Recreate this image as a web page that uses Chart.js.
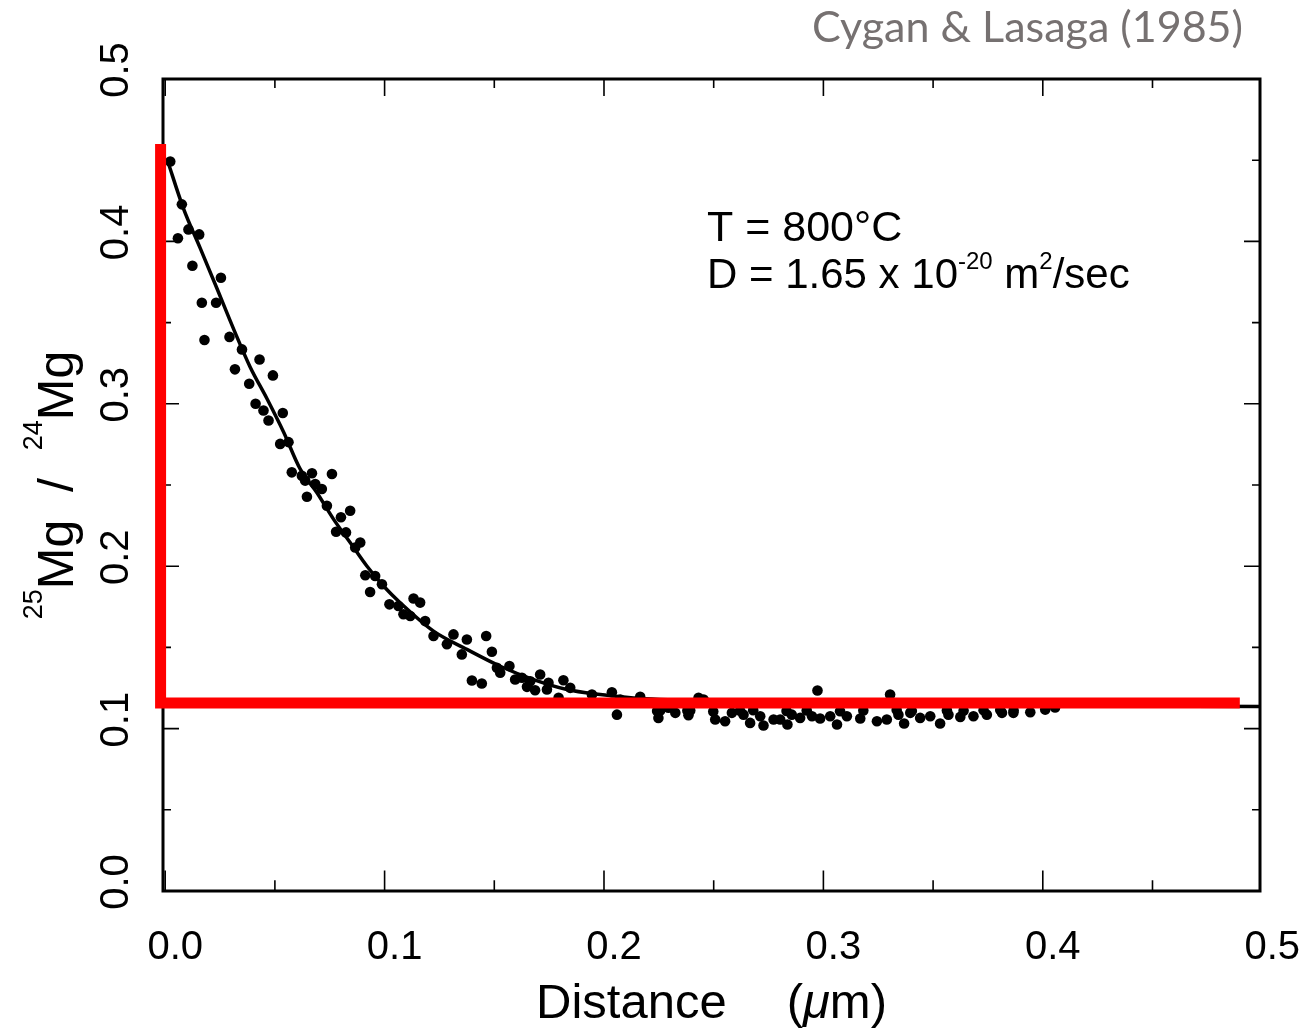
<!DOCTYPE html>
<html><head><meta charset="utf-8">
<script src="https://cdn.jsdelivr.net/npm/chart.js@4.4.0/dist/chart.umd.min.js"></script>
<style>html,body{margin:0;padding:0;background:#fff;overflow:hidden}#wrap{width:1307px;height:1030px}</style>
</head><body><div id="wrap"><canvas id="c" width="1307" height="1030"></canvas></div>
<script>
// ---------- data ----------
const chartTitle = 'Cygan & Lasaga (1985)';
const xTitleWord = 'Distance';
const xTitleUnitMu = 'μ';
const xTitleUnitRest = 'm)';
const yTitleParts = [['25', true], ['Mg', false], ['  /  ', false], ['24', true], ['Mg', false]];
const annotLine1 = 'T = 800°C';
const annotLine2 = [['D = 1.65 x 10', false], ['-20', true], [' m', false], ['2', true], ['/sec', false]];

const xMajorTicks = [0.0, 0.1, 0.2, 0.3, 0.4, 0.5];
const xMinorTicks = [0.05, 0.15, 0.25, 0.35, 0.45];
const yMajorTicks = [0.0, 0.1, 0.2, 0.3, 0.4, 0.5];
const yMinorTicks = [0.05, 0.15, 0.25, 0.35, 0.45];

const dataX = [0.0023,0.0076,0.0106,0.0155,0.0058,0.0124,0.0254,0.0167,0.0232,0.0179,0.0293,0.0350,0.0430,0.0318,0.0491,0.0383,0.0412,0.0448,0.0536,0.0471,
0.0524,0.0562,0.0577,0.0669,0.0760,0.0623,0.0638,0.0684,0.0714,0.0646,0.0737,0.0843,0.0801,0.0779,0.0824,0.0889,0.0866,0.0912,0.0957,0.0988,
0.0934,0.1132,0.1162,0.1022,0.1063,0.1086,0.1117,0.1185,0.1223,0.1314,0.1284,0.1375,0.1463,0.1489,0.1352,0.1512,0.1569,0.1527,0.1595,0.1626,
0.1709,0.1664,0.1398,0.1443,0.1747,0.1815,0.1686,0.1649,0.1740,0.1846,0.1945,0.2036,0.1793,0.2059,0.2165,0.2248,0.2325,0.2385,0.2294,0.2431,
0.2973,0.3304,0.2454,0.2507,0.2552,0.2583,0.2636,0.2666,0.2727,0.2712,0.2773,0.2803,0.2836,0.2856,0.2894,0.2948,0.2985,0.3031,0.3062,0.3107,
0.3168,0.3244,0.3289,0.3342,0.3368,0.3396,0.3441,0.3487,0.3532,0.3570,0.3624,0.3684,0.3745,0.3814,0.3866,0.3943,0.4011,0.4056,0.2074,0.2256,
0.2393,0.2242,0.2380,0.2498,0.2620,0.2680,0.2832,0.2924,0.3076,0.3182,0.3334,0.3403,0.3563,0.3639,0.3730,0.3806,0.3867];
const dataY = [0.4492,0.4228,0.4074,0.4043,0.4019,0.3850,0.3776,0.3622,0.3622,0.3393,0.3412,0.3335,0.3273,0.3212,0.3175,0.3123,0.3000,0.2959,0.2943,0.2897,
0.2753,0.2764,0.2578,0.2572,0.2568,0.2557,0.2527,0.2506,0.2475,0.2428,0.2372,0.2341,0.2301,0.2212,0.2208,0.2146,0.2115,0.1944,0.1940,0.1889,
0.1841,0.1801,0.1776,0.1765,0.1755,0.1704,0.1693,0.1662,0.1570,0.1580,0.1519,0.1549,0.1570,0.1473,0.1457,0.1375,0.1385,0.1344,0.1302,0.1313,
0.1333,0.1292,0.1296,0.1278,0.1282,0.1298,0.1236,0.1257,0.1241,0.1251,0.1210,0.1224,0.1190,0.1086,0.1196,0.1066,0.1097,0.1082,0.1128,0.1190,
0.1235,0.1210,0.1179,0.1056,0.1045,0.1097,0.1086,0.1035,0.1019,0.1076,0.1056,0.1056,0.1025,0.1086,0.1066,0.1076,0.1062,0.1076,0.1025,0.1076,
0.1062,0.1045,0.1056,0.1086,0.1031,0.1097,0.1066,0.1076,0.1031,0.1086,0.1072,0.1076,0.1086,0.1097,0.1097,0.1101,0.1117,0.1130,0.1179,0.1111,
0.1111,0.1108,0.1112,0.1106,0.1110,0.1113,0.1109,0.1112,0.1107,0.1111,0.1114,0.1108,0.1112,0.1110,0.1113,0.1115,0.1112];

const fitX = [0.0010,0.0083,0.0160,0.0236,0.0311,0.0387,0.0464,0.0540,0.0615,0.0691,0.0767,0.0843,0.0919,0.0995,0.1071,0.1223,0.1375,0.1527,0.1679,0.1831,0.1983,0.2134,0.2500,0.3000,0.3500,0.4000,0.4990];
const fitY = [0.4500,0.4204,0.3957,0.3710,0.3463,0.3227,0.3031,0.2825,0.2599,0.2454,0.2290,0.2146,0.2001,0.1878,0.1775,0.1600,0.1488,0.1384,0.1302,0.1241,0.1210,0.1189,0.1170,0.1155,0.1147,0.1142,0.1136];

// red reference "L": from right end, to the corner, up to the top
const refLineX = [0.4898, -0.0021, -0.0021];
const refLineY = [0.1157, 0.1157, 0.4600];

// ---------- helpers ----------
const zip = (xs, ys) => xs.map((x, i) => ({x: x, y: ys[i]}));
const FONT = '"Liberation Sans", Arial, Helvetica, sans-serif';

function drawParts(ctx, parts, x, y, size, supSize, supRise, align) {
  let total = 0;
  const widths = parts.map(p => {
    ctx.font = (p[1] ? supSize : size) + 'px ' + FONT;
    const w = ctx.measureText(p[0]).width; total += w; return w;
  });
  let cx = align === 'center' ? x - total / 2 : x;
  parts.forEach((p, i) => {
    ctx.font = (p[1] ? supSize : size) + 'px ' + FONT;
    ctx.fillText(p[0], cx, p[1] ? y - supRise : y);
    cx += widths[i];
  });
}

const framePlugin = {
  id: 'frame',
  beforeDatasetsDraw(chart) {
    const {ctx, chartArea: a, scales: {x, y}} = chart;
    ctx.save();
    ctx.strokeStyle = '#000';
    ctx.lineWidth = 3;
    ctx.strokeRect(a.left, a.top, a.right - a.left, a.bottom - a.top);
    ctx.lineWidth = 1.6;
    ctx.beginPath();
    const tick = (vals, len) => {
      vals.forEach(v => {
        const px = x.getPixelForValue(v);
        if (px > a.left + 2 && px < a.right - 2) {
          ctx.moveTo(px, a.bottom); ctx.lineTo(px, a.bottom - len * 1.2);
          ctx.moveTo(px, a.top); ctx.lineTo(px, a.top + len);
        }
      });
    };
    const tickY = (vals, len) => {
      vals.forEach(v => {
        const py = y.getPixelForValue(v);
        if (py > a.top + 2 && py < a.bottom - 2) {
          ctx.moveTo(a.left, py); ctx.lineTo(a.left + len, py);
          ctx.moveTo(a.right, py); ctx.lineTo(a.right - len, py);
        }
      });
    };
    tick(xMajorTicks, 17); tick(xMinorTicks, 9);
    tickY(yMajorTicks, 16); tickY(yMinorTicks, 8);
    ctx.stroke();
    ctx.restore();
  },
  afterDraw(chart) {
    const {ctx, chartArea: a, scales: {x, y}} = chart;
    ctx.save();
    ctx.fillStyle = '#000';
    // y tick labels (rotated)
    ctx.font = '40px ' + FONT;
    ctx.textAlign = 'center';
    ctx.textBaseline = 'middle';
    yMajorTicks.forEach(v => {
      const py = y.getPixelForValue(v) - 9;
      ctx.save();
      ctx.translate(117, py);
      ctx.rotate(-Math.PI / 2);
      ctx.fillText(v.toFixed(1), 0, 0);
      ctx.restore();
    });
    // y title
    ctx.save();
    ctx.translate(73, (a.top + a.bottom) / 2);
    ctx.rotate(-Math.PI / 2);
    ctx.textAlign = 'left';
    ctx.textBaseline = 'alphabetic';
    drawParts(ctx, yTitleParts, 0, 0, 50, 27, 31, 'center');
    ctx.restore();
    // x title
    ctx.textBaseline = 'alphabetic';
    ctx.textAlign = 'left';
    ctx.font = '49px ' + FONT;
    const w1 = ctx.measureText(xTitleWord).width;
    const gap = 60;
    const wp = ctx.measureText('(').width;
    ctx.font = 'italic 49px ' + FONT;
    const wmu = ctx.measureText(xTitleUnitMu).width;
    ctx.font = '49px ' + FONT;
    const wr = ctx.measureText(xTitleUnitRest).width;
    const total = w1 + gap + wp + wmu + wr;
    let cx = (a.left + a.right) / 2 - total / 2;
    ctx.fillText(xTitleWord, cx, 1018); cx += w1 + gap;
    ctx.fillText('(', cx, 1018); cx += wp;
    ctx.font = 'italic 49px ' + FONT;
    ctx.fillText(xTitleUnitMu, cx, 1018); cx += wmu;
    ctx.font = '49px ' + FONT;
    ctx.fillText(xTitleUnitRest, cx, 1018);
    // annotation
    ctx.font = '43px ' + FONT;
    ctx.fillText(annotLine1, 707, 241);
    drawParts(ctx, annotLine2, 707, 288, 42, 24, 19, 'left');
    // chart title
    ctx.fillStyle = '#767171';
    ctx.textAlign = 'right';
    ctx.font = '43px Lato, "Open Sans", sans-serif';
    ctx.fillText(chartTitle, 1243, 42);
    ctx.restore();
  }
};

new Chart(document.getElementById('c'), {
  data: {
    datasets: [
      { type: 'line', label: 'reference', data: zip(refLineX, refLineY), borderColor: '#ff0000', borderWidth: 11,
        pointRadius: 0, fill: false, clip: false, order: 0, borderJoinStyle: 'miter', borderCapStyle: 'butt', tension: 0 },
      { type: 'line', label: 'fit', data: zip(fitX, fitY), borderColor: '#000', borderWidth: 3.5,
        pointRadius: 0, fill: false, order: 1, cubicInterpolationMode: 'monotone' },
      { type: 'scatter', label: 'data', data: zip(dataX, dataY), backgroundColor: '#000', borderWidth: 0,
        pointRadius: 5.3, order: 2 }
    ]
  },
  options: {
    responsive: false, animation: false, devicePixelRatio: 1,
    layout: { padding: { left: 0, right: 47, top: 79, bottom: 0 } },
    plugins: { legend: { display: false }, tooltip: { enabled: false }, title: { display: false } },
    scales: {
      x: { type: 'linear', position: 'bottom', min: -0.001, max: 0.499,
        grid: { display: false, drawTicks: false }, border: { display: false },
        afterBuildTicks: s => { s.ticks = xMajorTicks.map(v => ({value: v})); },
        afterFit: s => { s.height = 139; s.paddingLeft = 0; s.paddingRight = 0; },
        ticks: { color: '#000', font: { size: 40, family: FONT }, padding: 33, labelOffset: 10,
          maxRotation: 0, autoSkip: false, callback: v => Number(v).toFixed(1) } },
      y: { type: 'linear', position: 'left', min: 0, max: 0.5,
        grid: { display: false, drawTicks: false }, border: { display: false },
        afterBuildTicks: s => { s.ticks = yMajorTicks.map(v => ({value: v})); },
        afterFit: s => { s.width = 163; },
        ticks: { display: false } }
    }
  },
  plugins: [framePlugin]
});
</script></body></html>
